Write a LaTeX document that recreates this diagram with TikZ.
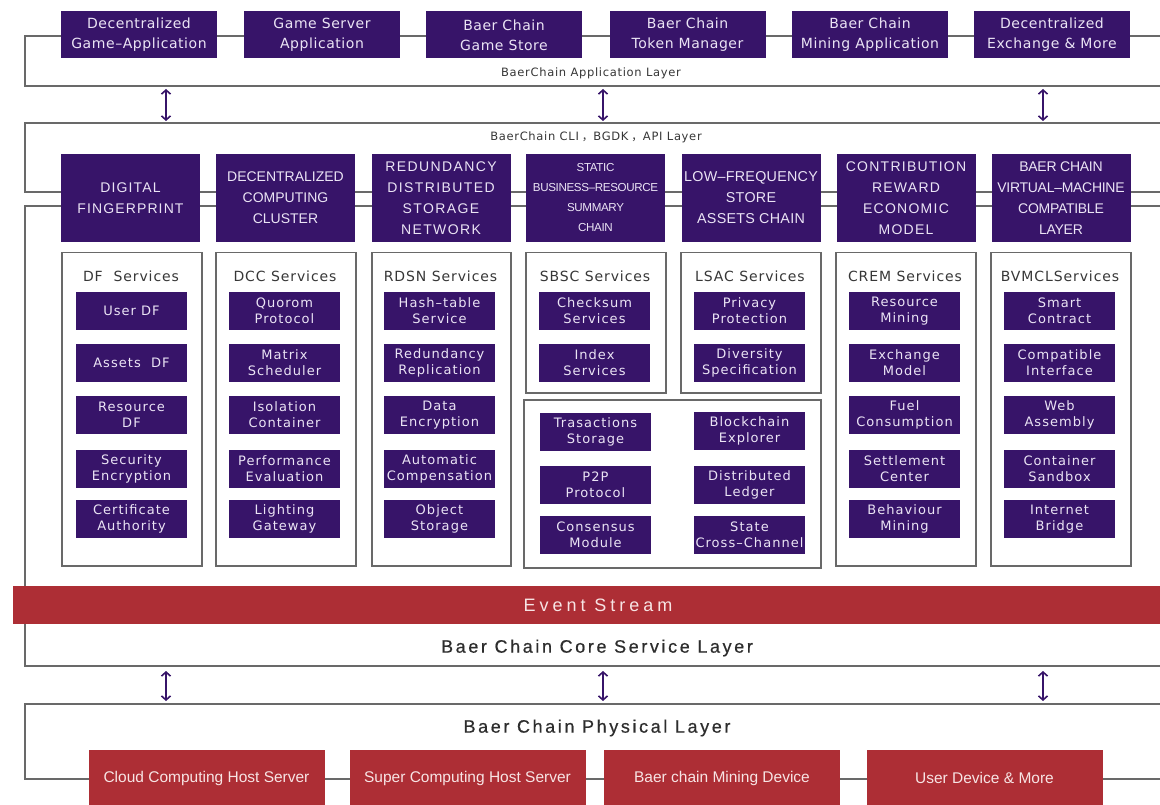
\documentclass[tikz,border=0pt]{standalone}
\usepackage{fontspec}
\setmainfont{DejaVu Sans}
\newfontfamily\svcf[LetterSpace=8]{DejaVu Sans}
\newfontfamily\appf[LetterSpace=4]{DejaVu Sans}
\newfontfamily\ttlf[LetterSpace=6.5]{DejaVu Sans}
\newfontfamily\layf[LetterSpace=14.5,FakeBold=0.6]{Liberation Sans}
\newfontfamily\evf[LetterSpace=22]{Liberation Sans}
\newfontfamily\smlf[LetterSpace=6]{DejaVu Sans}
\newfontfamily\modf{Liberation Sans}
\newfontfamily\redf{Liberation Sans}
\newfontfamily\cjkf{Noto Sans CJK KR}
\usetikzlibrary{arrows.meta}
\definecolor{bpurple}{RGB}{55,20,105}
\definecolor{bred}{RGB}{173,46,53}
\definecolor{bline}{RGB}{105,105,105}
\definecolor{btext}{RGB}{235,228,245}
\definecolor{rtext}{RGB}{247,228,228}
\definecolor{gtext}{RGB}{55,55,55}
\definecolor{dtext}{RGB}{45,45,45}
\tikzset{
  layerline/.style={draw=bline, line width=1.5pt},
  appbox/.style={fill=bpurple, text=btext, minimum width=156pt, minimum height=47pt, inner sep=0pt, align=center, font=\appf\fontsize{14}{20}\selectfont},
  modbox/.style={fill=bpurple, text=btext, minimum width=139pt, minimum height=88pt, inner sep=0pt, align=center, font=\modf\fontsize{14}{21}\selectfont},
  svcbox/.style={fill=bpurple, text=btext, minimum width=111pt, minimum height=38pt, inner sep=0pt, align=center, font=\svcf\fontsize{13}{16}\selectfont},
  container/.style={draw=bline, line width=1.5pt, fill=white, inner sep=0pt, anchor=north west},
  svctitle/.style={text=gtext, font=\ttlf\fontsize{14}{16}\selectfont, inner sep=0pt},
  redbox/.style={fill=bred, text=rtext, minimum width=236pt, minimum height=56pt, inner sep=0pt, font=\redf\fontsize{15.5}{18}\selectfont},
  laylabel/.style={text=dtext, font=\layf\fontsize{18}{20}\selectfont, inner sep=0pt},
  smlabel/.style={text=gtext, font=\smlf\fontsize{11.5}{13}\selectfont, inner sep=0pt},
  dblarrow/.style={draw=bpurple, line width=1.6pt, {Straight Barb[length=4pt,width=9pt]}-{Straight Barb[length=4pt,width=9pt]}},
}
\begin{document}
\begin{tikzpicture}[x=1pt,y=-1pt]
\useasboundingbox (0,0) rectangle (1160,805);
\fill[white] (0,0) rectangle (1160,805);
% layer outlines
\draw[layerline] (1162,36) -- (25,36) -- (25,86) -- (1162,86);
\draw[layerline] (1162,123) -- (25,123) -- (25,192) -- (1162,192);
\draw[layerline] (1162,206) -- (25,206) -- (25,666) -- (1162,666);
\draw[layerline] (1162,704) -- (25,704) -- (25,779) -- (1162,779);
% event stream
\node[fill=bred, minimum width=1150pt, minimum height=38pt, inner sep=0pt, anchor=north west] (ev) at (13,586) {};
\node[text=rtext, font=\evf\fontsize{18}{20}\selectfont, inner sep=0pt] (evlab) at (598,605) {Event Stream};
% layer labels
\node[smlabel] (applab) at (591,73) {BaerChain Application Layer};
\node[smlabel] (clilab) at (596,137) {BaerChain CLI\kern3pt{\cjkf ，}BGDK\kern3pt{\cjkf ，}API Layer};
\node[laylabel] (corelab) at (597,648) {Baer Chain Core Service Layer};
\node[laylabel] (phylab) at (597,728) {Baer Chain Physical Layer};
% application boxes
\node[appbox] (app1) at (139,35) {Decentralized\\Game–Application};
\node[appbox] (app2) at (322,35) {Game Server\\Application};
\node[appbox] (app3) at (504,35) {Baer Chain\\Game Store};
\node[appbox] (app4) at (687.5,35) {Baer Chain\\Token Manager};
\node[appbox] (app5) at (870,35) {Baer Chain\\Mining Application};
\node[appbox] (app6) at (1052,35) {Decentralized\\Exchange \& More};
% arrows
\coordinate (ua1) at (166,89); \coordinate (ub1) at (166,121);
\coordinate (ua2) at (603,89); \coordinate (ub2) at (603,121);
\coordinate (ua3) at (1043,89); \coordinate (ub3) at (1043,121);
\coordinate (la1) at (166,671); \coordinate (lb1) at (166,701);
\coordinate (la2) at (603,671); \coordinate (lb2) at (603,701);
\coordinate (la3) at (1043,671); \coordinate (lb3) at (1043,701);
\draw[dblarrow] (ua1) -- (ub1);
\draw[dblarrow] (ua2) -- (ub2);
\draw[dblarrow] (ua3) -- (ub3);
\draw[dblarrow] (la1) -- (lb1);
\draw[dblarrow] (la2) -- (lb2);
\draw[dblarrow] (la3) -- (lb3);
% module boxes
\node[modbox, font=\modf\addfontfeature{LetterSpace=8}\fontsize{14}{21}\selectfont] (m1) at (130.5,198) {DIGITAL\\FINGERPRINT};
\node[modbox] (m2) at (285.5,198) {DECENTRALIZED\\COMPUTING\\CLUSTER};
\node[modbox, font=\modf\addfontfeature{LetterSpace=10}\fontsize{14}{21}\selectfont] (m3) at (441,198) {REDUNDANCY\\DISTRIBUTED\\STORAGE\\NETWORK};
\node[modbox, font=\modf\addfontfeature{LetterSpace=-3}\fontsize{11.6}{20}\selectfont] (m4) at (595.5,198) {STATIC\\BUSINESS–RESOURCE\\SUMMARY\\CHAIN};
\node[modbox, font=\modf\addfontfeature{LetterSpace=2}\fontsize{14.3}{21}\selectfont] (m5) at (751,198) {LOW–FREQUENCY\\STORE\\ASSETS CHAIN};
\node[modbox, font=\modf\addfontfeature{LetterSpace=9}\fontsize{14}{21}\selectfont] (m6) at (906,198) {CONTRIBUTION\\REWARD\\ECONOMIC\\MODEL};
\node[modbox, font=\modf\addfontfeature{LetterSpace=-2}\fontsize{14}{21}\selectfont] (m7) at (1061,198) {BAER CHAIN\\VIRTUAL–MACHINE\\COMPATIBLE\\LAYER};
% containers
\node[container, minimum width=140pt, minimum height=313pt] (c1) at (61,252) {};
\node[container, minimum width=140pt, minimum height=313pt] (c2) at (215,252) {};
\node[container, minimum width=139pt, minimum height=313pt] (c3) at (371,252) {};
\node[container, minimum width=140pt, minimum height=140pt] (c4) at (525,252) {};
\node[container, minimum width=140pt, minimum height=140pt] (c5) at (680,252) {};
\node[container, minimum width=140pt, minimum height=313pt] (c6) at (835,252) {};
\node[container, minimum width=140pt, minimum height=313pt] (c7) at (990,252) {};
\node[container, minimum width=297pt, minimum height=168pt] (c8) at (523,399) {};
% container titles
\node[svctitle] (t1) at (131,276) {DF~~Services};
\node[svctitle] (t2) at (285,276) {DCC Services};
\node[svctitle] (t3) at (440.5,276) {RDSN Services};
\node[svctitle] (t4) at (595,276) {SBSC Services};
\node[svctitle] (t5) at (750,276) {LSAC Services};
\node[svctitle] (t6) at (905,276) {CREM Services};
\node[svctitle] (t7) at (1060,276) {BVMCLServices};
% DF services
\node[svcbox] (s11) at (131.5,311) {User DF};
\node[svcbox] (s12) at (131.5,363) {Assets~~DF};
\node[svcbox] (s13) at (131.5,415) {Resource\\DF};
\node[svcbox] (s14) at (131.5,469) {Security\\Encryption};
\node[svcbox] (s15) at (131.5,519) {Certificate\\Authority};
% DCC services
\node[svcbox] (s21) at (284.5,311) {Quorom\\Protocol};
\node[svcbox] (s22) at (284.5,363) {Matrix\\Scheduler};
\node[svcbox] (s23) at (284.5,415) {Isolation\\Container};
\node[svcbox] (s24) at (284.5,469) {Performance\\Evaluation};
\node[svcbox] (s25) at (284.5,519) {Lighting\\Gateway};
% RDSN services
\node[svcbox] (s31) at (439.5,311) {Hash–table\\Service};
\node[svcbox] (s32) at (439.5,363) {Redundancy\\Replication};
\node[svcbox] (s33) at (439.5,415) {Data\\Encryption};
\node[svcbox] (s34) at (439.5,469) {Automatic\\Compensation};
\node[svcbox] (s35) at (439.5,519) {Object\\Storage};
% SBSC services
\node[svcbox] (s41) at (594.5,311) {Checksum\\Services};
\node[svcbox] (s42) at (594.5,363) {Index\\Services};
% LSAC services
\node[svcbox] (s51) at (749.5,311) {Privacy\\Protection};
\node[svcbox] (s52) at (749.5,363) {Diversity\\Specification};
% CREM services
\node[svcbox] (s61) at (904.5,311) {Resource\\Mining};
\node[svcbox] (s62) at (904.5,363) {Exchange\\Model};
\node[svcbox] (s63) at (904.5,415) {Fuel\\Consumption};
\node[svcbox] (s64) at (904.5,469) {Settlement\\Center};
\node[svcbox] (s65) at (904.5,519) {Behaviour\\Mining};
% BVMCL services
\node[svcbox] (s71) at (1059.5,311) {Smart\\Contract};
\node[svcbox] (s72) at (1059.5,363) {Compatible\\Interface};
\node[svcbox] (s73) at (1059.5,415) {Web\\Assembly};
\node[svcbox] (s74) at (1059.5,469) {Container\\Sandbox};
\node[svcbox] (s75) at (1059.5,519) {Internet\\Bridge};
% lower shared container
\node[svcbox] (s81) at (595.5,432) {Trasactions\\Storage};
\node[svcbox] (s82) at (595.5,485) {P2P\\Protocol};
\node[svcbox] (s83) at (595.5,535) {Consensus\\Module};
\node[svcbox] (s84) at (749.5,431) {Blockchain\\Explorer};
\node[svcbox] (s85) at (749.5,485) {Distributed\\Ledger};
\node[svcbox] (s86) at (749.5,535) {State\\Cross–Channel};
% physical layer boxes
\node[redbox] (r1) at (206.5,778) {Cloud Computing Host Server};
\node[redbox] (r2) at (467.5,778) {Super Computing Host Server};
\node[redbox] (r3) at (722,778) {Baer chain Mining Device};
\node[redbox] (r4) at (984.5,778) {\raisebox{-2pt}{User Device \& More}};
\end{tikzpicture}
\end{document}
